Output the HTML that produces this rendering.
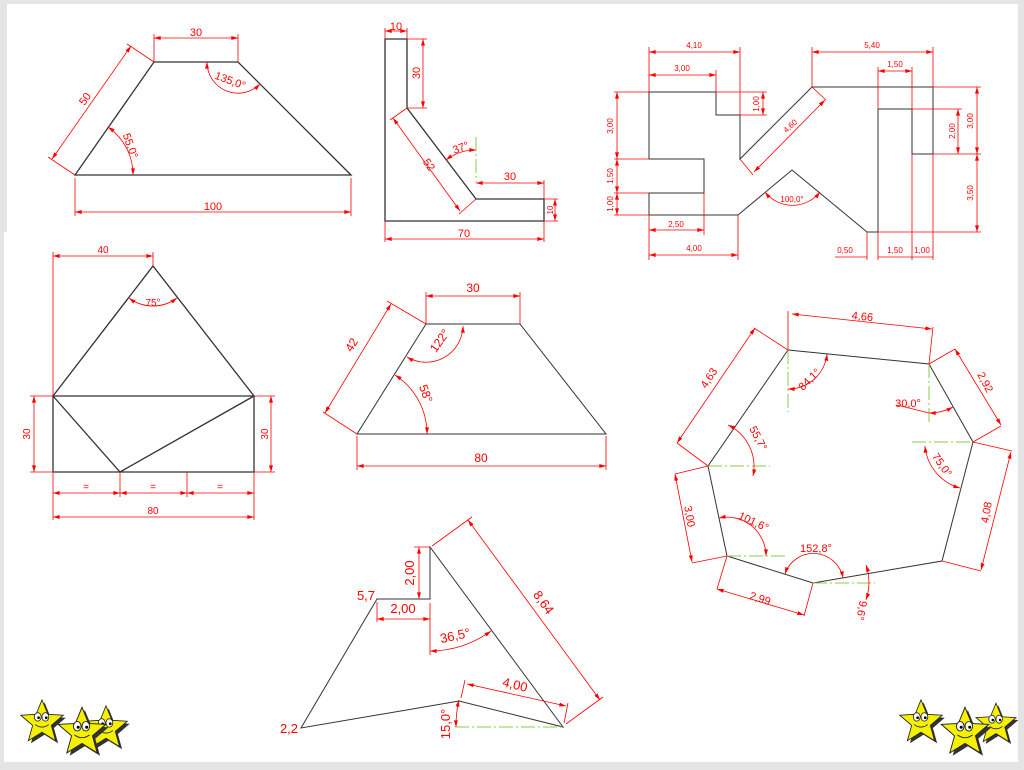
<!DOCTYPE html>
<html><head><meta charset="utf-8"><style>
html,body{margin:0;padding:0;background:#e4e4e4;}
svg{display:block;font-family:"Liberation Sans",sans-serif;}
.o{fill:none;stroke:#333;stroke-width:1.3}
.d{fill:none;stroke:#f00;stroke-width:0.8}
.a{fill:none;stroke:#f00;stroke-width:0.8;marker-start:url(#ar);marker-end:url(#ar)}
.g{stroke:#8c4;stroke-width:1;stroke-dasharray:14 3 2 3;fill:none}
text{fill:#f00;font-size:11px;text-anchor:middle}
.s{font-size:8px}
.b{font-size:13px}
.f4 text{font-size:10px}
</style></head><body>
<svg width="1024" height="770" viewBox="0 0 1024 770" xmlns="http://www.w3.org/2000/svg">
<defs>
<marker id="ar" viewBox="0 0 10 6" refX="10" refY="3" markerWidth="7" markerHeight="4" orient="auto-start-reverse" markerUnits="userSpaceOnUse"><path d="M0,0 L10,3 L0,6z" fill="#f00"/></marker>
<g id="star">
<path d="M0,-26 L7,-9 L25,-8 L11,4 L16,22 L0,12 L-16,22 L-11,4 L-25,-8 L-7,-9z" fill="#333" transform="translate(3,3)"/>
<path d="M0,-26 L7,-9 L25,-8 L11,4 L16,22 L0,12 L-16,22 L-11,4 L-25,-8 L-7,-9z" fill="#f5f000" stroke="#222" stroke-width="1"/>
<ellipse cx="-5" cy="-6" rx="4" ry="5" fill="#fff" stroke="#222"/><ellipse cx="4" cy="-6" rx="4" ry="5" fill="#fff" stroke="#222"/>
<circle cx="-4" cy="-5" r="1.6" fill="#000"/><circle cx="5" cy="-5" r="1.6" fill="#000"/>
<path d="M-8,3 Q0,9 8,3" fill="none" stroke="#222"/>
</g>
</defs>
<rect x="7" y="4" width="1011" height="758" fill="#fff"/>
<rect x="4" y="232" width="10" height="530" fill="#fff"/>

<!-- Fig 1 -->
<polygon class="o" points="75,175 154,62 238,62 351,175"/>
<path class="d" d="M154,62V34 M238,62V34 M75,178V216 M351,178V216 M75,175L48,157 M154,62L127,44"/>
<line class="a" x1="154" y1="38" x2="238" y2="38"/><text x="196" y="36">30</text>
<line class="a" x1="75" y1="212" x2="351" y2="212"/><text x="213" y="210">100</text>
<line class="a" x1="52" y1="159" x2="131" y2="46"/><text transform="translate(88,101) rotate(-55)">50</text>
<path class="a" d="M133,175 A58,58 0 0 0 108,127"/><text transform="translate(127,147) rotate(70)">55,0°</text>
<path class="a" d="M207,62 A31,31 0 0 0 260,84"/><text transform="translate(229,84) rotate(20)">135,0°</text>

<!-- Fig 2 -->
<polygon class="o" points="385,39 407,39 407,108 476,199 544,199 544,221 385,221"/>
<path class="d" d="M385,39V28 M407,39V28 M407,39H427 M407,108H427 M544,199V180 M544,199H558 M544,221H558 M385,221V242 M544,221V242 M407,108L390,120 M476,199L459,214"/>
<line class="g" x1="476" y1="137" x2="476" y2="182"/>
<line class="a" x1="385" y1="31" x2="407" y2="31"/><text x="396" y="30">10</text>
<line class="a" x1="423" y1="39" x2="423" y2="108"/><text transform="translate(420,73) rotate(-90)">30</text>
<line class="a" x1="393" y1="118" x2="460" y2="211"/><text transform="translate(426,167) rotate(54)">52</text>
<path class="a" d="M476,150 A49,49 0 0 0 446,160"/><text transform="translate(462,151) rotate(-20)">37°</text>
<line class="a" x1="476" y1="183" x2="544" y2="183"/><text x="510" y="180">30</text>
<line class="a" x1="555" y1="199" x2="555" y2="221"/><text transform="translate(553,210) rotate(-90)" class="s">10</text>
<line class="a" x1="385" y1="239" x2="544" y2="239"/><text x="464" y="237">70</text>

<!-- Fig 3 -->
<polygon class="o" style="stroke-width:1" points="649,92 716,92 716,115 740,115 740,159 812,87 933,87 933,154 912,154 912,109 878,109 878,232 867,232 792,170 738,215 649,215 649,193 704,193 704,159 649,159"/>
<path class="d" d="M649,92V47 M740,115V47 M716,92V70 M812,87V47 M933,87V47 M878,109V67 M912,109V67 M649,92H614 M649,159H614 M649,193H614 M649,215H614 M716,92H767 M740,115H767 M912,109H962 M933,154H981 M933,87H981 M878,232H981 M649,215V260 M704,193V235 M738,215V260 M867,232V260 M878,232V260 M912,154V260 M933,154V260 M740,159L753,175 M812,87L826,100"/>
<line class="a" x1="649" y1="52" x2="740" y2="52"/><text class="s" x="694" y="48">4,10</text>
<line class="a" x1="649" y1="75" x2="716" y2="75"/><text class="s" x="682" y="71">3,00</text>
<line class="a" x1="812" y1="52" x2="933" y2="52"/><text class="s" x="872" y="48">5,40</text>
<line class="a" x1="878" y1="71" x2="912" y2="71"/><text class="s" x="895" y="67">1,50</text>
<line class="a" x1="617" y1="92" x2="617" y2="159"/><text class="s" transform="translate(613,126) rotate(-90)">3,00</text>
<line class="a" x1="617" y1="159" x2="617" y2="193"/><text class="s" transform="translate(613,176) rotate(-90)">1,50</text>
<line class="a" x1="617" y1="193" x2="617" y2="215"/><text class="s" transform="translate(613,204) rotate(-90)">1,00</text>
<line class="a" x1="763" y1="92" x2="763" y2="115"/><text class="s" transform="translate(759,104) rotate(-90)">1,00</text>
<line class="a" x1="958" y1="109" x2="958" y2="154"/><text class="s" transform="translate(955,131) rotate(-90)">2,00</text>
<line class="a" x1="977" y1="87" x2="977" y2="154"/><text class="s" transform="translate(973,121) rotate(-90)">3,00</text>
<line class="a" x1="977" y1="154" x2="977" y2="232"/><text class="s" transform="translate(973,193) rotate(-90)">3,50</text>
<line class="a" x1="649" y1="230" x2="704" y2="230"/><text class="s" x="676" y="227">2,50</text>
<line class="a" x1="649" y1="255" x2="738" y2="255"/><text class="s" x="694" y="251">4,00</text>
<path class="d" d="M835,257H867 M878,257H912 M912,257H933"/><text class="s" x="845" y="253">0,50</text><text class="s" x="895" y="253">1,50</text><text class="s" x="922" y="253">1,00</text>
<line class="a" x1="754" y1="172" x2="825" y2="100"/><text class="s" transform="translate(792,128) rotate(-42)">4,60</text>
<path class="a" d="M765,192 A35,35 0 0 0 820,192"/><text class="s" x="792" y="202">100,0°</text>

<!-- Fig 4 -->
<g class="f4">
<path class="o" d="M53,396L153,266L254,396Z M53,396H254V472H53Z M53,396L120,472L254,396"/>
<path class="d" d="M53,396V252 M153,266V252 M53,396H30 M53,472H30 M254,396H275 M254,472H275 M53,472V520 M120,472V497 M187,472V497 M254,472V520"/>
<line class="a" x1="53" y1="256" x2="153" y2="256"/><text x="103" y="253">40</text>
<line class="a" x1="34" y1="396" x2="34" y2="472"/><text transform="translate(30,434) rotate(-90)">30</text>
<line class="a" x1="271" y1="396" x2="271" y2="472"/><text transform="translate(268,434) rotate(-90)">30</text>
<line class="a" x1="53" y1="493" x2="120" y2="493"/><line class="a" x1="120" y1="493" x2="187" y2="493"/><line class="a" x1="187" y1="493" x2="254" y2="493"/>
<text class="s" x="86" y="490">=</text><text class="s" x="153" y="490">=</text><text class="s" x="220" y="490">=</text>
<line class="a" x1="53" y1="517" x2="254" y2="517"/><text x="153" y="514">80</text>
<path class="a" d="M129,298 A40,40 0 0 0 177,298"/><text x="153" y="306">75°</text>
</g>

<!-- Fig 5 -->
<polygon class="o" style="stroke-width:1" points="357,434 426,324 520,324 606,434"/>
<path class="d" d="M426,324V292 M520,324V292 M357,436V470 M606,436V470 M426,324L387,301 M357,434L323,412"/>
<line class="a" x1="426" y1="296" x2="520" y2="296"/><text x="473" y="292" style="font-size:12px">30</text>
<line class="a" x1="357" y1="466" x2="606" y2="466"/><text x="481" y="462" style="font-size:12px">80</text>
<line class="a" x1="391" y1="304" x2="325" y2="413"/><text transform="translate(355,347) rotate(-58)" style="font-size:12px">42</text>
<path class="a" d="M463,326 A37,37 0 0 1 407,357"/><text transform="translate(443,343) rotate(-55)" style="font-size:12px">122°</text>
<path class="a" d="M427,434 A70,70 0 0 0 395,375"/><text transform="translate(422,395) rotate(70)" style="font-size:12px">58°</text>

<!-- Fig 6 -->
<polygon class="o" style="stroke-width:1" points="430,547 430,599 377,599 301,728 459,701 563,727"/>
<line class="g" x1="455" y1="727" x2="563" y2="727"/>
<path class="d" d="M430,547H414 M430,603V655 M377,602V622 M432,546L472,517 M566,724L603,697 M461,698L465,680 M564,723L568,703"/>
<line class="a" x1="419" y1="547" x2="419" y2="599"/><text class="b" transform="translate(414,573) rotate(-90)">2,00</text>
<line class="a" x1="377" y1="619" x2="430" y2="619"/><text class="b" x="403" y="613">2,00</text>
<line class="a" x1="468" y1="520" x2="600" y2="700"/><text class="b" transform="translate(540,605) rotate(54)">8,64</text>
<line class="a" x1="467" y1="684" x2="566" y2="706"/><text class="b" transform="translate(514,689) rotate(14)">4,00</text>
<path class="a" d="M430,651 A104,104 0 0 0 491,631"/><text class="b" transform="translate(456,640) rotate(-12)">36,5°</text>
<path class="a" d="M456,727 A107,107 0 0 1 459,700"/><text class="b" transform="translate(450,724) rotate(-90)">15,0°</text>
<text class="b" x="366" y="600">5,7</text><text class="b" x="289" y="733">2,2</text>

<!-- Fig 7 -->
<polygon class="o" style="stroke-width:1" points="788,350 929,364 973,442 942,561 813,583 727,556 708,466"/>
<path class="g" d="M788,350V412 M929,364V425 M912,442H973 M708,466H770 M727,556H788 M813,583H875"/>
<path class="d" d="M788,350V311 M929,364L933,327 M929,364L955,349 M973,442L1001,426 M973,442L1012,451 M942,561L981,571 M708,466L675,474 M727,556L692,563 M727,556L717,589 M813,583L804,616 M788,350L754,328 M708,466L677,443 M897,405L929,413"/>
<line class="a" x1="792" y1="314" x2="932" y2="329"/><text transform="translate(862,320) rotate(6)">4,66</text>
<line class="a" x1="755" y1="328" x2="677" y2="443"/><text transform="translate(712,380) rotate(-57)">4,63</text>
<line class="a" x1="955" y1="349" x2="1001" y2="425"/><text transform="translate(982,384) rotate(62)">2,92</text>
<line class="a" x1="1011" y1="452" x2="981" y2="570"/><text transform="translate(990,513) rotate(-80)">4,08</text>
<line class="a" x1="675" y1="474" x2="692" y2="562"/><text transform="translate(686,517) rotate(80)">3,00</text>
<line class="a" x1="717" y1="589" x2="804" y2="615"/><text transform="translate(759,602) rotate(18)">2,99</text>
<path class="a" d="M788,389 A39,39 0 0 0 827,354"/><text transform="translate(812,382) rotate(-45)">84,1°</text>
<path class="a" d="M929,413 A49,49 0 0 0 953,407"/><text x="908" y="407">30,0°</text>
<path class="a" d="M753,476 A46,46 0 0 0 728,425"/><text transform="translate(755,440) rotate(62)">55,7°</text>
<path class="a" d="M925,446 A48,48 0 0 0 960,488"/><text transform="translate(939,467) rotate(55)">75,0°</text>
<path class="a" d="M719,518 A39,39 0 0 1 766,556"/><text transform="translate(752,525) rotate(25)">101,6°</text>
<path class="a" d="M785,574 A30,30 0 0 1 843,578"/><text x="816" y="552">152,8°</text>
<path class="a" d="M866,565 A55,55 0 0 1 866,600"/><text transform="translate(858,610) rotate(100)">9,6°</text>

<!-- stars -->
<use href="#star" transform="translate(42,722) scale(0.85)"/>
<use href="#star" transform="translate(106,728) scale(0.85)"/>
<use href="#star" transform="translate(82,732) scale(0.95)"/>
<use href="#star" transform="translate(921,722) scale(0.85)"/>
<use href="#star" transform="translate(996,724) scale(0.8)"/>
<use href="#star" transform="translate(965,732) scale(0.95)"/>
</svg>
</body></html>
